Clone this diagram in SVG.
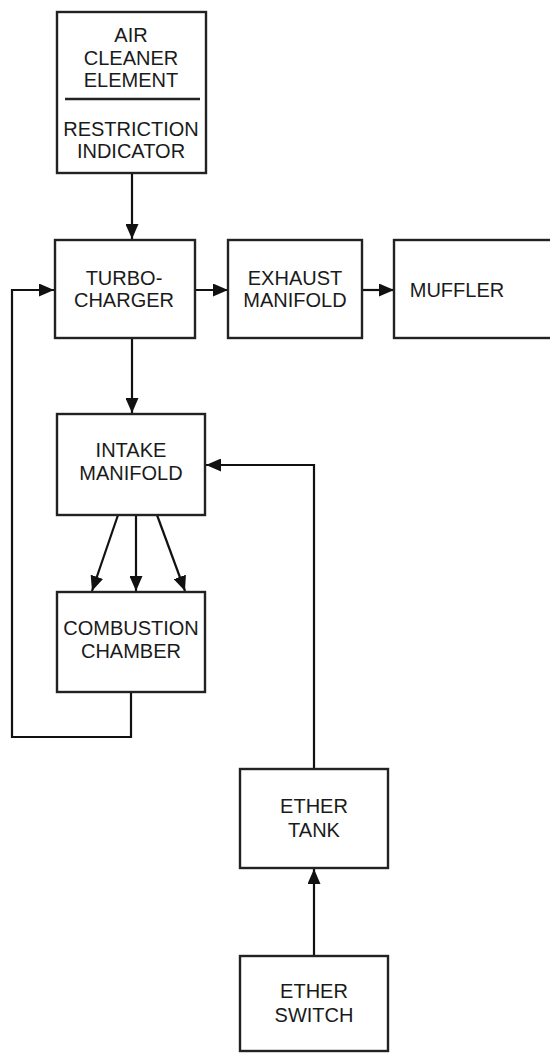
<svg xmlns="http://www.w3.org/2000/svg" width="550" height="1053" viewBox="0 0 550 1053">
<style>
.box{fill:#fff;stroke:#222;stroke-width:2.4}
.t{font-family:"Liberation Sans",Arial,sans-serif;font-size:20px;fill:#1a1a1a;text-anchor:middle}
.c{fill:none;stroke:#111;stroke-width:2.2}
</style>
<defs>
<marker id="ah" viewBox="0 0 15 13" refX="15" refY="6.5" markerWidth="15" markerHeight="13" markerUnits="userSpaceOnUse" orient="auto">
<path d="M0,0 L15,6.5 L0,13 Z" fill="#111"/>
</marker>
</defs>
<rect width="550" height="1053" fill="#fff"/>
<g id="connectors">
<line class="c" x1="132" y1="173" x2="132" y2="239" marker-end="url(#ah)"/>
<line class="c" x1="195" y1="290" x2="228" y2="290" marker-end="url(#ah)"/>
<line class="c" x1="362" y1="290" x2="394" y2="290" marker-end="url(#ah)"/>
<line class="c" x1="132" y1="338" x2="132" y2="413" marker-end="url(#ah)"/>
<line class="c" x1="118" y1="515" x2="92" y2="591" marker-end="url(#ah)"/>
<line class="c" x1="136" y1="515" x2="136" y2="591" marker-end="url(#ah)"/>
<line class="c" x1="157" y1="515" x2="185" y2="591" marker-end="url(#ah)"/>
<polyline class="c" points="131,692 131,737 12,737 12,290 54,290" marker-end="url(#ah)"/>
<polyline class="c" points="314,769 314,465 206,465" marker-end="url(#ah)"/>
<line class="c" x1="314" y1="956" x2="314" y2="869" marker-end="url(#ah)"/>
</g>
<g id="air-cleaner">
<rect class="box" x="57" y="12" width="149" height="161"/>
<line x1="65" y1="99" x2="200" y2="99" stroke="#222" stroke-width="2.4"/>
<text class="t" x="131" y="42">AIR</text>
<text class="t" x="131" y="65">CLEANER</text>
<text class="t" x="131" y="87">ELEMENT</text>
<text class="t" x="131" y="136">RESTRICTION</text>
<text class="t" x="131" y="158">INDICATOR</text>
</g>
<g id="turbocharger">
<rect class="box" x="55" y="240" width="140" height="98"/>
<text class="t" x="124" y="285">TURBO-</text>
<text class="t" x="124" y="307">CHARGER</text>
</g>
<g id="exhaust-manifold">
<rect class="box" x="228" y="240" width="134" height="98"/>
<text class="t" x="295" y="285">EXHAUST</text>
<text class="t" x="295" y="307">MANIFOLD</text>
</g>
<g id="muffler">
<rect class="box" x="394" y="240" width="165" height="98"/>
<text class="t" x="457" y="297">MUFFLER</text>
</g>
<g id="intake-manifold">
<rect class="box" x="57" y="414" width="148" height="101"/>
<text class="t" x="131" y="457">INTAKE</text>
<text class="t" x="131" y="480">MANIFOLD</text>
</g>
<g id="combustion-chamber">
<rect class="box" x="57" y="592" width="148" height="100"/>
<text class="t" x="131" y="635">COMBUSTION</text>
<text class="t" x="131" y="658">CHAMBER</text>
</g>
<g id="ether-tank">
<rect class="box" x="240" y="769" width="148" height="99"/>
<text class="t" x="314" y="813">ETHER</text>
<text class="t" x="314" y="837">TANK</text>
</g>
<g id="ether-switch">
<rect class="box" x="240" y="956" width="148" height="95"/>
<text class="t" x="314" y="998">ETHER</text>
<text class="t" x="314" y="1022">SWITCH</text>
</g>
</svg>
